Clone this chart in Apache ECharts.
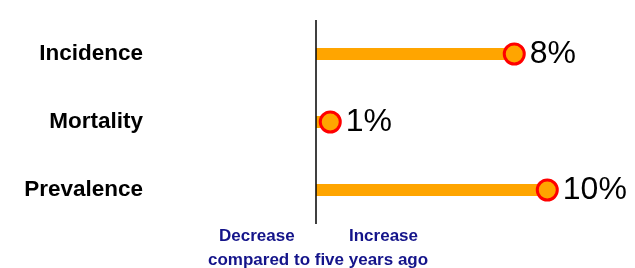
<!DOCTYPE html>
<html><head><meta charset="utf-8">
<script src="https://cdn.jsdelivr.net/npm/echarts@6/dist/echarts.min.js"></script>
<style>html,body{margin:0;padding:0;background:#fff}#c{width:635px;height:268px}</style>
</head><body><div id="c"></div>
<script>
var categories = ['Incidence', 'Mortality', 'Prevalence'];
var values = [8.4, 0.6, 9.8];
var valueLabels = ['8%', '1%', '10%'];
var axisNotes = ['Decrease', 'Increase', 'compared to five years ago'];

var chart = echarts.init(document.getElementById('c'), null, {renderer: 'canvas'});
var bold = {fontFamily: 'Liberation Sans, Arial, sans-serif', fontWeight: 'bold', fontSize: 17, color: '#14148a'};
chart.setOption({
  animation: false,
  title: [
    {text: axisNotes[0], left: 214, top: 223, textStyle: bold},
    {text: axisNotes[1], left: 344, top: 223, textStyle: bold},
    {text: axisNotes[2], left: 203, top: 247, textStyle: bold}
  ],
  grid: {left: 151, right: 83, top: 20, height: 204},
  xAxis: {type: 'value', min: -7, max: 10, show: false},
  yAxis: {
    type: 'category', data: categories, inverse: true,
    axisLine: {show: false}, axisTick: {show: false},
    axisLabel: {margin: 8, fontFamily: 'Liberation Sans, Arial, sans-serif', fontWeight: 'bold', fontSize: 22.5, color: '#000'}
  },
  series: [
    {
      type: 'bar', data: values, barWidth: 12, itemStyle: {color: '#FFA500'},
      markLine: {silent: true, symbol: 'none', label: {show: false},
        lineStyle: {color: '#000', width: 1.5, type: 'solid'}, data: [{xAxis: 0}]}
    },
    {
      type: 'scatter', data: values, symbol: 'circle', symbolSize: 20, z: 5,
      itemStyle: {color: '#FFA500', borderColor: '#FF0000', borderWidth: 3, opacity: 1},
      label: {show: true, position: 'right', distance: 4,
        formatter: function (p) { return valueLabels[p.dataIndex]; },
        fontFamily: 'Liberation Sans, Arial, sans-serif', fontSize: 32, color: '#000'}
    }
  ]
});
</script></body></html>
